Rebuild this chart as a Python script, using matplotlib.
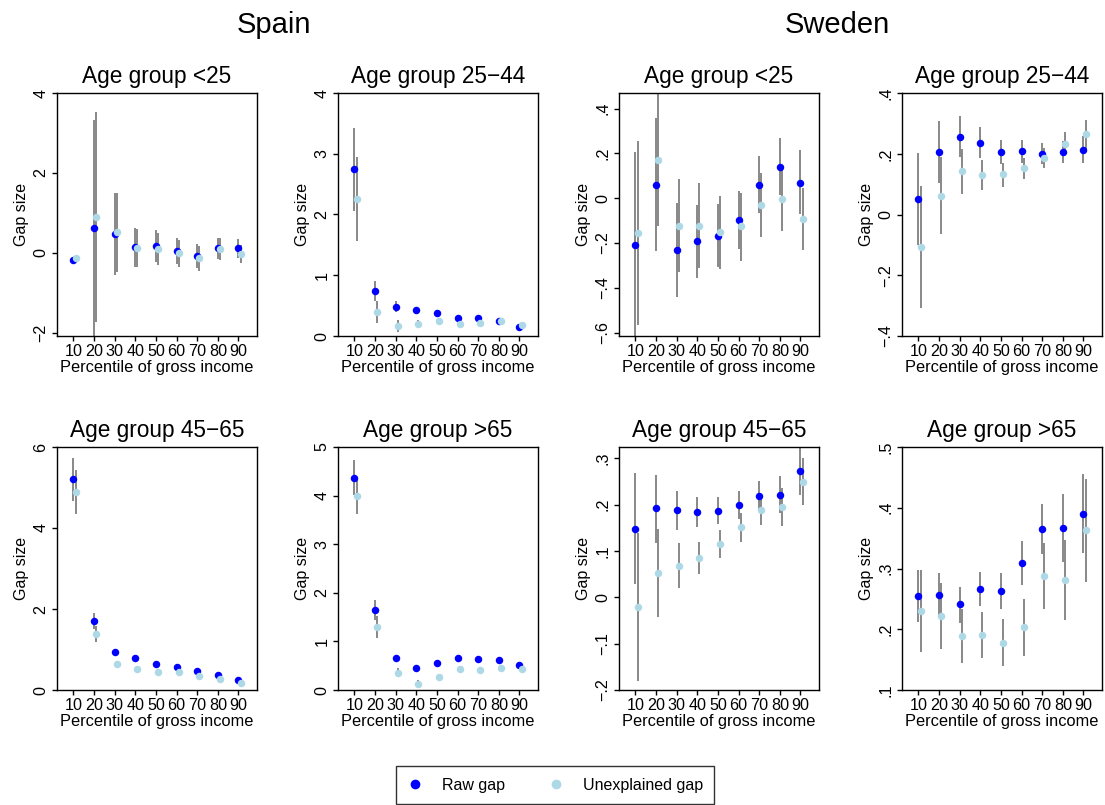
import matplotlib
matplotlib.use('Agg')
import matplotlib.pyplot as plt
from matplotlib.lines import Line2D

plt.rcParams['font.family'] = ['Liberation Sans', 'DejaVu Sans']

# Percentiles of gross income (unexplained gap drawn shifted by +1)
pct = [10, 20, 30, 40, 50, 60, 70, 80, 90]

# --- Spain, age group <25
es_u25_raw = [-0.18, 0.62, 0.47, 0.14, 0.18, 0.05, -0.09, 0.11, 0.12]
es_u25_raw_lo = [-0.24, -2.08, -0.55, -0.35, -0.22, -0.28, -0.39, -0.16, -0.12]
es_u25_raw_hi = [-0.12, 3.32, 1.51, 0.62, 0.57, 0.38, 0.21, 0.38, 0.35]
es_u25_unx = [-0.14, 0.89, 0.51, 0.11, 0.09, -0.01, -0.14, 0.09, -0.03]
es_u25_unx_lo = [-0.19, -1.73, -0.47, -0.35, -0.30, -0.35, -0.45, -0.18, -0.26]
es_u25_unx_hi = [-0.09, 3.52, 1.49, 0.59, 0.49, 0.32, 0.17, 0.38, 0.20]

# --- Spain, age group 25-44
es_2544_raw = [2.75, 0.74, 0.48, 0.42, 0.38, 0.29, 0.29, 0.24, 0.14]
es_2544_raw_lo = [2.06, 0.57, 0.39, 0.36, 0.34, 0.24, 0.24, 0.20, 0.10]
es_2544_raw_hi = [3.42, 0.91, 0.58, 0.48, 0.43, 0.34, 0.33, 0.29, 0.18]
es_2544_unx = [2.26, 0.40, 0.16, 0.20, 0.24, 0.20, 0.21, 0.25, 0.18]
es_2544_unx_lo = [1.57, 0.22, 0.07, 0.13, 0.18, 0.15, 0.16, 0.19, 0.13]
es_2544_unx_hi = [2.95, 0.57, 0.27, 0.27, 0.30, 0.25, 0.26, 0.30, 0.23]

# --- Spain, age group 45-65
es_4565_raw = [5.21, 1.70, 0.93, 0.78, 0.65, 0.58, 0.46, 0.36, 0.24]
es_4565_raw_lo = [4.66, 1.51, 0.87, 0.73, 0.60, 0.53, 0.41, 0.31, 0.19]
es_4565_raw_hi = [5.74, 1.89, 0.99, 0.83, 0.70, 0.63, 0.51, 0.41, 0.29]
es_4565_unx = [4.88, 1.38, 0.63, 0.52, 0.45, 0.45, 0.35, 0.27, 0.18]
es_4565_unx_lo = [4.34, 1.18, 0.55, 0.45, 0.39, 0.39, 0.29, 0.21, 0.12]
es_4565_unx_hi = [5.42, 1.59, 0.71, 0.59, 0.51, 0.51, 0.41, 0.33, 0.24]

# --- Spain, age group >65
es_o65_raw = [4.36, 1.64, 0.66, 0.45, 0.56, 0.66, 0.64, 0.62, 0.51]
es_o65_raw_lo = [4.01, 1.44, 0.62, 0.41, 0.51, 0.61, 0.59, 0.57, 0.46]
es_o65_raw_hi = [4.73, 1.86, 0.71, 0.49, 0.61, 0.71, 0.69, 0.67, 0.56]
es_o65_unx = [3.99, 1.30, 0.36, 0.13, 0.27, 0.43, 0.42, 0.45, 0.43]
es_o65_unx_lo = [3.62, 1.08, 0.27, 0.07, 0.21, 0.37, 0.36, 0.39, 0.37]
es_o65_unx_hi = [4.35, 1.52, 0.45, 0.20, 0.33, 0.49, 0.48, 0.51, 0.49]

# --- Sweden, age group <25
se_u25_raw = [-0.207, 0.061, -0.229, -0.193, -0.168, -0.095, 0.061, 0.140, 0.070]
se_u25_raw_lo = [-0.615, -0.236, -0.440, -0.354, -0.306, -0.226, -0.065, 0.013, -0.071]
se_u25_raw_hi = [0.206, 0.358, -0.021, -0.031, -0.027, 0.034, 0.187, 0.267, 0.214]
se_u25_unx = [-0.156, 0.172, -0.122, -0.122, -0.152, -0.126, -0.031, -0.004, -0.094]
se_u25_unx_lo = [-0.566, -0.123, -0.328, -0.311, -0.317, -0.279, -0.174, -0.146, -0.232]
se_u25_unx_hi = [0.254, 0.470, 0.086, 0.068, 0.009, 0.025, 0.113, 0.143, 0.046]

# --- Sweden, age group 25-44
se_2544_raw = [0.052, 0.207, 0.256, 0.236, 0.205, 0.208, 0.200, 0.207, 0.213]
se_2544_raw_lo = [-0.100, 0.105, 0.188, 0.185, 0.165, 0.170, 0.166, 0.169, 0.168]
se_2544_raw_hi = [0.201, 0.309, 0.325, 0.288, 0.246, 0.244, 0.235, 0.242, 0.259]
se_2544_unx = [-0.108, 0.062, 0.142, 0.131, 0.132, 0.152, 0.185, 0.233, 0.264]
se_2544_unx_lo = [-0.309, -0.065, 0.068, 0.080, 0.092, 0.116, 0.152, 0.195, 0.215]
se_2544_unx_hi = [0.094, 0.188, 0.215, 0.180, 0.171, 0.187, 0.218, 0.270, 0.312]

# --- Sweden, age group 45-65
se_4565_raw = [0.148, 0.192, 0.188, 0.184, 0.187, 0.199, 0.219, 0.221, 0.273]
se_4565_raw_lo = [0.029, 0.118, 0.146, 0.151, 0.158, 0.169, 0.187, 0.182, 0.221]
se_4565_raw_hi = [0.267, 0.264, 0.230, 0.216, 0.217, 0.229, 0.251, 0.261, 0.324]
se_4565_unx = [-0.020, 0.052, 0.067, 0.085, 0.115, 0.151, 0.189, 0.194, 0.249]
se_4565_unx_lo = [-0.181, -0.042, 0.019, 0.050, 0.085, 0.120, 0.156, 0.154, 0.199]
se_4565_unx_hi = [0.139, 0.148, 0.116, 0.119, 0.146, 0.182, 0.220, 0.235, 0.300]

# --- Sweden, age group >65
se_o65_raw = [0.255, 0.257, 0.241, 0.266, 0.263, 0.309, 0.365, 0.366, 0.390]
se_o65_raw_lo = [0.212, 0.223, 0.211, 0.238, 0.233, 0.273, 0.324, 0.311, 0.326]
se_o65_raw_hi = [0.298, 0.293, 0.270, 0.295, 0.293, 0.345, 0.406, 0.422, 0.455]
se_o65_unx = [0.230, 0.222, 0.189, 0.190, 0.178, 0.203, 0.287, 0.281, 0.363]
se_o65_unx_lo = [0.163, 0.168, 0.145, 0.152, 0.140, 0.156, 0.234, 0.216, 0.278]
se_o65_unx_hi = [0.297, 0.276, 0.233, 0.229, 0.217, 0.250, 0.342, 0.347, 0.448]

titles = ['Age group <25', 'Age group 25\u221244', 'Age group 45\u221265', 'Age group >65']

panels = [
    # (col, row, title, raw, raw_lo, raw_hi, unx, unx_lo, unx_hi, yticks, ylim)
    (0, 0, titles[0], es_u25_raw, es_u25_raw_lo, es_u25_raw_hi, es_u25_unx, es_u25_unx_lo, es_u25_unx_hi,
     [-2, 0, 2, 4], (-2.08, 4.0)),
    (1, 0, titles[1], es_2544_raw, es_2544_raw_lo, es_2544_raw_hi, es_2544_unx, es_2544_unx_lo, es_2544_unx_hi,
     [0, 1, 2, 3, 4], (0, 4)),
    (0, 1, titles[2], es_4565_raw, es_4565_raw_lo, es_4565_raw_hi, es_4565_unx, es_4565_unx_lo, es_4565_unx_hi,
     [0, 2, 4, 6], (0, 6)),
    (1, 1, titles[3], es_o65_raw, es_o65_raw_lo, es_o65_raw_hi, es_o65_unx, es_o65_unx_lo, es_o65_unx_hi,
     [0, 1, 2, 3, 4, 5], (0, 5)),
    (2, 0, titles[0], se_u25_raw, se_u25_raw_lo, se_u25_raw_hi, se_u25_unx, se_u25_unx_lo, se_u25_unx_hi,
     [-0.6, -0.4, -0.2, 0, 0.2, 0.4], (-0.615, 0.47)),
    (3, 0, titles[1], se_2544_raw, se_2544_raw_lo, se_2544_raw_hi, se_2544_unx, se_2544_unx_lo, se_2544_unx_hi,
     [-0.4, -0.2, 0, 0.2, 0.4], (-0.4, 0.4)),
    (2, 1, titles[2], se_4565_raw, se_4565_raw_lo, se_4565_raw_hi, se_4565_unx, se_4565_unx_lo, se_4565_unx_hi,
     [-0.2, -0.1, 0, 0.1, 0.2, 0.3], (-0.2, 0.324)),
    (3, 1, titles[3], se_o65_raw, se_o65_raw_lo, se_o65_raw_hi, se_o65_unx, se_o65_unx_lo, se_o65_unx_hi,
     [0.1, 0.2, 0.3, 0.4, 0.5], (0.1, 0.5)),
]

RAW_COL = '#0000ff'
UNX_COL = '#add8e6'
CI_COL = '#7f7f7f'


def stata_fmt(v):
    # Stata-style tick labels: ".2", "-.4", "0"
    if abs(v) < 1e-12:
        return '0'
    s = f'{abs(v):g}'
    if s.startswith('0.'):
        s = s[1:]
    return ('\u2212' + s) if v < 0 else s


W, H = 1105, 805
fig = plt.figure(figsize=(W / 100, H / 100), dpi=100)

col_left = [57, 338, 619, 902]
row_top = [93, 447]
ax_w, ax_h = 200, 243

for col, row, title, raw, rlo, rhi, unx, ulo, uhi, yt, yl in panels:
    ax = fig.add_axes([col_left[col] / W, (H - row_top[row] - ax_h) / H, ax_w / W, ax_h / H])
    x_unx = [p + 1 for p in pct]
    ax.vlines(pct, rlo, rhi, color=CI_COL, lw=1.3, zorder=2)
    ax.vlines(x_unx, ulo, uhi, color=CI_COL, lw=1.3, zorder=2)
    ax.plot(pct, raw, 'o', color=RAW_COL, ms=5.4, mew=0, zorder=3)
    ax.plot(x_unx, unx, 'o', color=UNX_COL, ms=5.4, mew=0, zorder=3)

    ax.set_xlim(2, 99)
    ax.set_ylim(*yl)
    ax.set_xticks(pct)
    ax.set_xticklabels([str(p) for p in pct])
    ax.set_yticks(yt)
    ax.set_yticklabels([stata_fmt(v) for v in yt], rotation=90, va='center')
    ax.tick_params(direction='out', length=3.6, width=1, labelsize=11.6, pad=2.5)
    ax.tick_params(axis='x', pad=2.5)
    for s in ax.spines.values():
        s.set_linewidth(1)
        s.set_color('black')
    ax.set_title(title, fontsize=16.3, pad=7)
    ax.set_xlabel('Percentile of gross income', fontsize=11.8, labelpad=0.5)
    ax.set_ylabel('Gap size', fontsize=11.5, labelpad=3)

fig.text(274 / W, 1 - 25 / H, 'Spain', fontsize=21, ha='center', va='center')
fig.text(837 / W, 1 - 25 / H, 'Sweden', fontsize=21, ha='center', va='center')

handles = [
    Line2D([], [], ls='none', marker='o', color=RAW_COL, ms=7, mew=0, label='Raw gap'),
    Line2D([], [], ls='none', marker='o', color=UNX_COL, ms=7, mew=0, label='Unexplained gap'),
]
leg = fig.legend(handles=handles, loc='center', bbox_to_anchor=(555 / W, 1 - 785 / H),
                 ncol=2, fontsize=11.5, frameon=True, fancybox=False, edgecolor='black',
                 handlelength=1.0, handletextpad=1.2, columnspacing=2.7, borderpad=0.7,
                 borderaxespad=0)
leg.get_frame().set_linewidth(1)

fig.savefig('out.png', dpi=100)
